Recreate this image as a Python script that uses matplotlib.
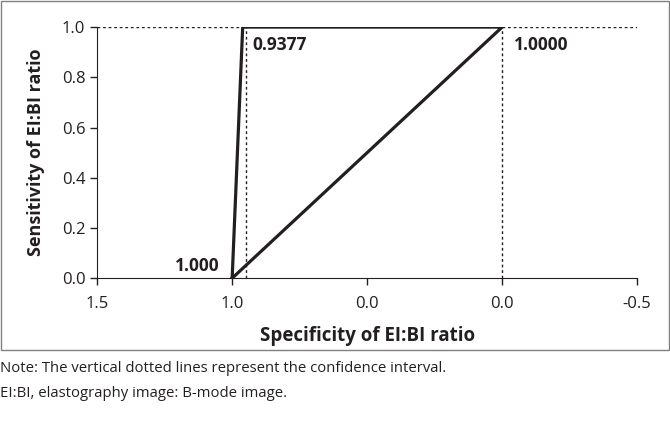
import matplotlib.pyplot as plt
from matplotlib.patches import Rectangle

plt.rcParams['font.family'] = ['Open Sans', 'DejaVu Sans']

# ROC curve of EI:BI ratio (x = specificity, axis reversed)
roc_x = [1.0, 0.961, 0.0, 1.0]
roc_y = [0.0, 1.0, 1.0, 0.0]

# confidence interval bounds (vertical dotted lines), positions as drawn
ci_x = [0.948, 0.0]
ci_labels = ["0.9377", "1.0000"]

xticks = [1.5, 1.0, 0.5, 0.0, -0.5]
xtick_labels = ["1.5", "1.0", "0.0", "0.0", "-0.5"]
yticks = [0.0, 0.2, 0.4, 0.6, 0.8, 1.0]

ink = '#231f20'

fig = plt.figure(figsize=(6.7, 4.3), dpi=100)
ax = fig.add_axes([0.145, 0.353, 0.806, 0.584])

ax.plot(roc_x, roc_y, color=ink, lw=2.3, solid_joinstyle='miter', zorder=3)

# dotted reference lines
ax.plot([1.5, roc_x[1]], [1.0, 1.0], color=ink, lw=1, ls=(0, (2, 2)))
ax.plot([0.0, -0.5], [1.0, 1.0], color=ink, lw=1, ls=(0, (2, 2)))
for cx in ci_x:
    ax.plot([cx, cx], [0, 1.0], color=ink, lw=1, ls=(0, (2, 2)))

ax.text(0.925, 0.93, ci_labels[0], fontsize=12.5, fontweight='bold',
        color=ink, ha='left', va='center')
ax.text(-0.045, 0.93, ci_labels[1], fontsize=12.5, fontweight='bold',
        color=ink, ha='left', va='center')
ax.text(1.045, 0.05, "1.000", fontsize=12.5, fontweight='bold',
        color=ink, ha='right', va='center')

ax.set_xlim(1.5, -0.5)
ax.set_ylim(0, 1.0)
ax.set_xticks(xticks)
ax.set_xticklabels(xtick_labels)
ax.set_yticks(yticks)
ax.set_yticklabels([f"{v:.1f}" for v in yticks])
ax.tick_params(labelsize=12, colors=ink, length=5, width=1)
ax.tick_params(axis='x', pad=8, length=5)
for s in ['top', 'right']:
    ax.spines[s].set_visible(False)
for s in ['left', 'bottom']:
    ax.spines[s].set_color(ink)

ax.set_xlabel("Specificity of EI:BI ratio", fontsize=13.5, fontweight='bold',
              color=ink, labelpad=10)
ax.set_ylabel("Sensitivity of EI:BI ratio", fontsize=13, fontweight='bold',
              color=ink, labelpad=12)

# frame around the chart
fig.patches.append(Rectangle((0.002, 0.187), 0.996, 0.811, transform=fig.transFigure,
                             fill=False, edgecolor='#808080', lw=1))

fig.text(0.0, 0.143, "Note: The vertical dotted lines represent the confidence interval.",
         fontsize=10.7, color=ink, va='center')
fig.text(0.0, 0.085, "EI:BI, elastography image: B-mode image.",
         fontsize=10.7, color=ink, va='center')

fig.savefig("out.png", dpi=100)
